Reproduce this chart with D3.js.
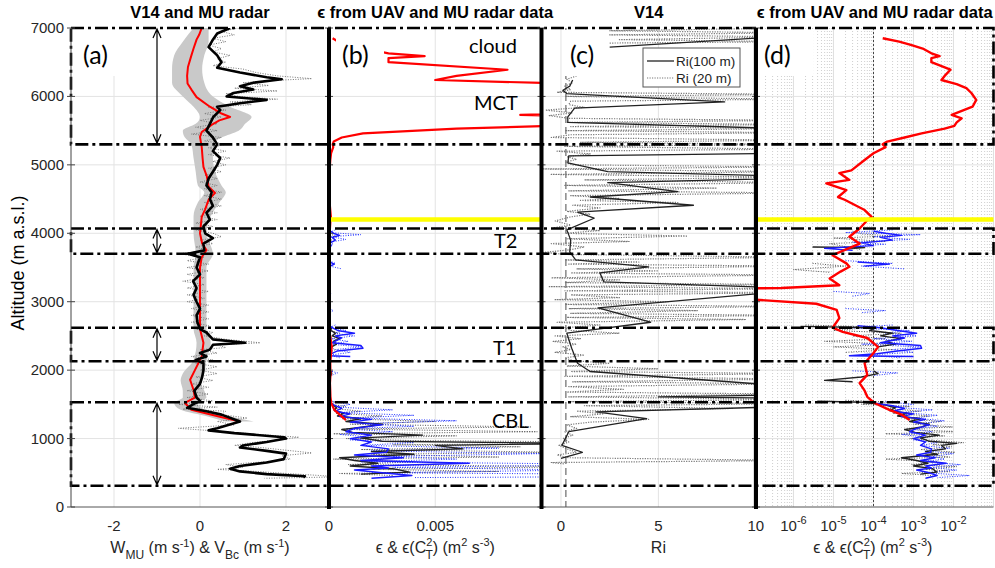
<!DOCTYPE html>
<html>
<head>
<meta charset="utf-8">
<script src="https://cdn.jsdelivr.net/npm/d3@7"></script>
<style>
  body { margin: 0; background: #fff; }
  svg { display: block; }
  text { font-family: "Liberation Sans", Arial, sans-serif; }
  .ann { font-family: Lato, "Open Sans", sans-serif; }
</style>
</head>
<body>
<svg id="chart" width="995" height="568"></svg>
<script>
// ---- data (altitude in m, value) ----
const layers = [[5300, 7000], [3700, 4070], [2130, 2620], [310, 1530]];
const yellowAlt = 4200;

// (a) MU radar mean vertical wind and its spread
const wMU = [[7000,0.04],[6900,-0.02],[6830,-0.08],[6700,-0.15],[6600,-0.2],[6430,-0.28],[6300,-0.3],[6190,-0.29],[6100,-0.2],[5990,-0.08],[5850,0.23],[5750,0.5],[5700,0.7],[5650,0.45],[5600,0.31],[5480,0.04],[5410,0],[5260,0.04],[5100,0.06],[4970,0.08],[4830,0.16],[4680,0.2],[4590,0.35],[4490,0.2],[4350,0.12],[4240,0.04],[4000,0],[3850,0.05],[3755,0.15],[3650,0.04],[3500,0],[3000,0],[2600,0],[2400,0.08],[2200,0.04],[2150,0],[1960,-0.15],[1860,-0.23],[1710,-0.15],[1600,-0.12],[1520,-0.35],[1420,-0.2],[1320,0.46],[1250,0.93]];
const wMUband = [[7000,-0.15,0.2],[6800,-0.4,0.2],[6600,-0.6,0.1],[6400,-0.65,0.05],[6200,-0.65,0.1],[6000,-0.4,0.3],[5850,-0.15,0.7],[5700,0,1.2],[5600,-0.1,1.05],[5500,-0.4,0.9],[5400,-0.35,0.5],[5300,-0.2,0.3],[5100,-0.15,0.3],[4900,-0.1,0.35],[4700,-0.05,0.5],[4600,0.1,0.6],[4450,-0.05,0.45],[4250,-0.15,0.25],[4000,-0.15,0.15],[3700,-0.1,0.3],[3500,-0.15,0.15],[3000,-0.15,0.15],[2600,-0.15,0.15],[2400,-0.08,0.25],[2150,-0.15,0.15],[1950,-0.4,0.1],[1850,-0.45,0],[1700,-0.4,0.1],[1600,-0.4,0.15],[1520,-0.6,-0.05],[1420,-0.45,0.1],[1320,0.2,0.75],[1250,0.6,1.25]];
// (a) V14 balloon-corrected vertical speed, 100 m and 20 m
const vBc100 = [[7000,0.7],[6920,0.4],[6830,0.3],[6720,0.2],[6600,0.4],[6500,0.5],[6420,0.4],[6350,0.93],[6280,1.55],[6250,1.9],[6200,1.24],[6150,0.93],[6100,1.24],[6050,0.78],[6000,0.62],[5950,1.55],[5900,0.93],[5850,0.4],[5800,0.47],[5700,0.31],[5600,0.23],[5500,0.15],[5400,0.3],[5300,0.4],[5200,0.3],[5100,0.47],[5000,0.4],[4900,0.3],[4800,0.2],[4700,0.15],[4600,0.27],[4500,0.23],[4400,0.3],[4300,0.15],[4200,0.23],[4100,0.08],[4000,0.12],[3930,0.3],[3850,0.08],[3750,0.1],[3700,-0.28],[3650,0],[3500,-0.08],[3400,0],[3300,-0.16],[3200,-0.08],[3100,-0.15],[3000,-0.08],[2900,0],[2800,-0.08],[2700,-0.06],[2600,0],[2550,0.15],[2450,0.3],[2400,1.05],[2370,0.3],[2300,0.23],[2250,0],[2200,0.15],[2150,-0.1],[2100,0.08],[2000,0.08],[1900,0.05],[1800,0],[1700,-0.13],[1600,-0.08],[1550,0],[1520,-0.1],[1450,-0.3],[1400,0.15],[1350,0.5],[1250,0.93],[1150,0.4],[1120,0.2],[1080,0.8],[1020,1.95],[1000,2.0],[950,1.55],[900,1.0],[870,0.93],[820,1.55],[780,2.0],[700,1.95],[650,1.55],[600,0.93],[560,0.7],[520,0.93],[480,1.55],[450,2.44],[430,2.4]];
const vBc20 = [[7000,0.9],[6950,0.5],[6900,0.8],[6850,0.3],[6800,0.6],[6750,0.2],[6700,0.5],[6650,0.3],[6600,0.7],[6550,0.4],[6500,0.6],[6450,0.3],[6400,1.0],[6350,1.3],[6300,1.8],[6260,2.6],[6230,1.6],[6200,1.0],[6160,1.6],[6120,0.8],[6080,1.8],[6040,0.6],[6000,0.9],[5960,1.8],[5920,0.7],[5880,1.2],[5840,0.2],[5800,0.6],[5750,0.1],[5700,0.5],[5650,0],[5600,0.4],[5550,-0.1],[5500,0.4],[5450,-0.2],[5400,0.5],[5350,0.1],[5300,0.6],[5250,0.2],[5200,0.6],[5150,0.2],[5100,0.7],[5050,0.3],[5000,0.6],[4950,0.2],[4900,0.5],[4850,0.1],[4800,0.4],[4750,0],[4700,0.4],[4650,0.1],[4600,0.5],[4550,0.1],[4500,0.5],[4450,0.1],[4400,0.5],[4350,0],[4300,0.4],[4250,0],[4200,0.4],[4150,-0.1],[4100,0.3],[4050,-0.1],[4000,0.3],[3950,0.5],[3900,0],[3850,0.3],[3800,-0.1],[3750,0.2],[3700,-0.5],[3650,0.1],[3600,-0.3],[3550,0.2],[3500,-0.3],[3450,0.2],[3400,-0.3],[3350,0.1],[3300,-0.4],[3250,0.1],[3200,-0.3],[3150,0.2],[3100,-0.3],[3050,0.1],[3000,-0.3],[2950,0.2],[2900,-0.2],[2850,0.2],[2800,-0.2],[2750,0.2],[2700,-0.2],[2650,0.2],[2600,-0.1],[2550,0.3],[2500,0.1],[2450,0.6],[2400,1.4],[2370,0.4],[2330,0.6],[2300,0],[2250,0.4],[2200,-0.2],[2150,0.3],[2100,-0.1],[2050,0.4],[2000,0],[1950,0.4],[1900,-0.1],[1850,0.3],[1800,-0.2],[1750,0.2],[1700,-0.3],[1650,0.2],[1600,-0.3],[1550,0.3],[1500,-0.5],[1460,0.4],[1430,-0.4],[1400,0.6],[1350,0.5],[1300,1.1],[1250,0.4],[1200,0.8],[1150,-0.5],[1100,0.6],[1050,1.6],[1020,2.3],[980,1.8],[940,1.2],[900,0.8],[870,1.4],[830,2.0],[790,2.6],[750,1.9],[700,2.1],[660,1.5],[620,0.6],[580,1.0],[550,0.4],[520,1.3],[490,2.0],[460,2.8],[440,3.2],[420,1.5]];

// (b)/(d) dissipation rate: MU radar (red), UAV eps (black), UAV eps(CT2) (blue)
const epsMU = [[6850,1.7e-4],[6800,4.4e-4],[6750,9e-4],[6700,1.7e-3],[6630,2.8e-3],[6590,4.5e-3],[6560,2.8e-3],[6500,2.8e-3],[6390,8.4e-3],[6300,6e-3],[6240,5e-3],[6180,1.2e-2],[6120,2.1e-2],[6050,2.8e-2],[5950,3.7e-2],[5850,3e-2],[5780,1.5e-2],[5730,9e-3],[5680,1.6e-2],[5620,1.2e-2],[5570,1.05e-2],[5530,6e-3],[5460,1.6e-3],[5400,6e-4],[5340,2.2e-4],[5300,1.7e-4],[5260,2e-4],[5170,1e-4],[5070,6e-5],[4920,2.8e-5],[4880,1.4e-5],[4780,2.5e-5],[4730,6.6e-6],[4630,2.1e-5],[4530,1.3e-5],[4490,1.9e-5],[4340,6e-5],[4240,9e-5],[4190,7e-5],[4070,4.5e-5],[3950,2.5e-5],[3850,4.5e-5],[3680,9.5e-6],[3560,2.1e-5],[3510,2.5e-5],[3440,1.5e-5],[3340,8e-6],[3240,1.4e-5],[3200,5e-7],[3190,1e-8],[3070,1e-8],[2970,3.7e-6],[2880,1.2e-5],[2760,1.4e-5],[2620,9.5e-6],[2560,1.7e-5],[2470,7e-5],[2340,1.3e-4],[2250,1e-4],[2100,6e-5],[1930,7e-5],[1810,4.5e-5],[1700,6e-5],[1610,7e-5],[1520,1.05e-4],[1420,2.5e-4],[1350,5e-4],[1270,8e-4]];
const epsUAV = [[3800,3e-6],[3790,6e-5],[3770,2e-5],null,[2640,1.5e-6],[2620,1.2e-4],[2580,8e-5],[2540,3e-4],[2500,1.5e-4],[2460,5e-4],[2420,2e-4],[2380,3.5e-4],[2340,1.3e-4],null,[1990,1e-4],[1950,1.3e-4],[1900,5e-5],[1850,6e-6],[1830,3e-5],null,[1545,4e-6],[1530,6e-5],[1490,2e-4],[1450,3.5e-4],[1410,2.5e-4],[1370,7e-4],[1330,4e-4],[1290,1.5e-3],[1250,8e-4],[1210,2.5e-3],[1170,1.6e-3],[1130,6e-4],[1090,1.1e-3],[1050,4.4e-3],[1010,1.5e-3],[960,2.5e-3],[930,1.2e-2],[900,5e-3],[850,6.3e-3],[810,2e-3],[770,4e-3],[720,5e-4],[680,1.2e-3],[640,2.3e-3],[600,1e-3],[560,3e-3],[510,3.8e-3],[480,1.5e-3]];
const epsUAV20 = [[4030,3e-5],[3990,5e-5],[3960,3e-4],[3930,1e-5],[3880,2e-4],[3850,8e-6],[3760,5e-5],null,[3560,3e-6],[3520,2e-5],[3470,1e-6],[3430,8e-6],null,[2660,2e-6],[2630,1.2e-4],[2580,1e-5],[2540,5e-4],[2500,3e-5],[2460,2e-4],[2420,6e-6],[2380,4e-4],[2340,1e-5],[2300,3e-4],[2260,2e-5],null,[1560,2e-5],[1530,3e-4],[1500,5e-5],[1470,8e-4],[1440,2e-4],[1400,1.5e-3],[1370,3e-4],[1330,2.5e-3],[1290,6e-4],[1250,5e-3],[1210,1e-3],[1170,9.5e-3],[1140,6e-4],[1100,9.8e-3],[1070,2e-4],[1040,6e-3],[1000,8e-4],[970,4e-3],[940,1.8e-2],[910,3e-3],[880,9e-3],[840,1.5e-3],[800,1.1e-2],[770,2e-3],[730,8e-3],[700,2e-4],[660,4e-3],[620,9e-4],[590,1.2e-2],[550,2e-3],[520,8e-3],[490,5e-4],[460,3e-3]];
const epsCT2 = [[4030,1e-4],[4000,2e-4],[3970,5e-4],[3940,1.5e-4],[3900,3e-4],[3860,5e-5],[3820,1e-4],[3780,6e-6],[3750,3e-5],null,[3580,4e-5],[3550,2.5e-4],[3520,6e-5],null,[2650,4e-5],[2620,1.5e-4],[2580,4e-4],[2540,1.2e-3],[2500,3e-4],[2470,6e-4],[2400,1.5e-4],[2360,1.5e-3],[2320,1.6e-3],[2280,4e-4],[2240,1.2e-4],[2210,2.5e-5],[2200,1e-3],null,[1520,1e-4],[1480,3e-4],[1440,6e-4],[1400,3e-4],[1360,1e-3],[1320,5e-4],[1280,2e-3],[1240,1e-3],[1200,2.5e-3],[1150,1.2e-3],[1100,8e-4],[1050,2e-3],[1000,1e-3],[950,2e-3],[900,1.5e-3],[850,2.8e-3],[800,2.7e-3],[760,1.2e-3],[720,3.5e-3],[680,1.5e-3],[640,6.6e-3],[600,2e-3],[570,2.8e-3],[540,1.2e-3],[500,2.5e-3],[460,3.9e-3],[420,2e-3]];
const epsCT2_20 = [[4050,3e-4],[4010,2e-5],[3980,1.5e-3],[3950,1e-4],[3910,8e-4],[3870,3e-5],[3840,2e-4],[3790,1e-5],null,[3600,2e-5],[3560,3e-4],[3520,5e-5],[3480,6e-4],null,[3150,1e-5],[3120,8e-5],[3080,3e-5],null,[2900,2e-5],[2870,2e-4],[2840,5e-5],null,[2660,3e-4],[2620,2e-5],[2580,8e-4],[2540,2e-4],[2500,1.2e-3],[2460,1e-4],[2420,9e-4],[2380,5e-5],[2340,1.5e-3],[2300,3e-4],[2260,1e-3],[2220,6e-5],[2180,5e-4],null,[1990,3e-5],[1960,4e-4],[1920,1e-4],null,[1540,2e-4],[1500,1e-3],[1460,3e-4],[1420,3e-3],[1380,5e-4],[1340,4e-3],[1300,1e-3],[1260,6e-3],[1220,1.5e-3],[1180,4e-3],[1140,8e-4],[1100,3e-3],[1060,5e-4],[1020,2e-3],[980,1e-3],[940,4e-3],[900,1.5e-3],[860,8e-3],[820,2e-3],[780,1e-2],[740,3e-3],[700,6e-3],[660,1.5e-3],[620,1.5e-2],[580,3e-3],[540,1.2e-2],[500,2e-3],[460,2.5e-2],[430,4e-3]];

// (c) Richardson number
const ri100 = [[7000,12],[6870,11],[6720,2.5],null,[6240,0.6],[6150,0.45],[6090,0.1],[6040,0.3],[5920,8.4],[5830,0.7],[5700,0.35],[5620,0.35],[5510,14],[5350,20],[5180,14],[5130,0.4],[5030,0.35],[4900,2.4],[4820,14],[4740,2.4],[4610,6],[4530,1.5],[4410,6.8],[4310,0.85],[4220,1.7],[4050,0.3],[3900,0.5],[3730,0.45],[3610,0.75],[3510,4.5],[3420,2],[3290,2.2],[3190,13],[2910,1.9],[2700,4.6],[2540,0.3],[2320,0.55],[2100,0.85],[1980,1.5],[1780,11],[1640,12],[1610,5],[1590,12],[1470,12],[1390,1.8],[1290,4.4],[1100,0.4],[900,0.05],[800,1.1],[710,0]];
const ri20 = [[7000,12],[6960,2.5],[6930,12],[6900,2.5],[6870,12],[6830,3],[6800,12],[6780,2.5],null,[6300,0.8],[6250,0.3],[6200,0.6],[6150,0.2],[6100,0.5],[6060,-0.2],[6030,12],[6000,0.2],[5960,12],[5930,0.5],[5880,0.4],[5840,1.2],[5800,-0.8],[5760,0.6],[5720,-0.6],[5680,0.4],[5650,12],[5620,0.3],[5590,12],[5560,0.5],[5530,12],[5500,0.2],[5470,12],[5440,0.5],[5400,-0.5],[5360,12],[5330,1.0],[5300,12],[5270,0.2],[5230,12],[5200,-0.2],[5160,1.5],[5120,0.3],[5080,0.8],[5040,0.2],[5000,0.6],[4970,12],[4940,-0.9],[4900,12],[4860,-0.5],[4820,12],[4780,1.2],[4740,12],[4700,0.2],[4660,8],[4620,0.4],[4590,12],[4550,0.5],[4510,3],[4480,1],[4450,6],[4410,0.6],[4370,2],[4320,0.3],[4280,1.5],[4240,0.5],[4180,-0.3],[4120,0.5],[4080,-0.4],[4040,2],[4000,0.2],[3960,6.5],[3920,0.3],[3880,3.5],[3850,-0.5],[3800,1.2],[3760,0.5],[3720,-0.9],[3690,0.3],[3650,12],[3610,0.2],[3580,4],[3550,0.4],[3520,12],[3480,0.8],[3450,5],[3420,0.5],[3390,12],[3350,-0.5],[3320,3],[3280,0.2],[3250,12],[3220,-0.6],[3190,12],[3160,0.2],[3130,12],[3100,0.5],[3060,3],[3030,-0.3],[3000,5.5],[2960,0.2],[2930,12],[2900,0.4],[2870,7],[2830,0.5],[2800,12],[2770,0.3],[2740,9.5],[2700,-0.2],[2660,2],[2620,0.2],[2580,0.5],[2540,3],[2500,-0.3],[2460,1],[2420,-0.4],[2380,0.8],[2340,0.1],[2300,0.5],[2260,-0.3],[2220,1.2],[2180,0.2],[2140,0.6],[2100,2.5],[2060,0.3],[2020,5],[1980,0.5],[1950,12],[1910,0.2],[1870,12],[1830,0.6],[1800,12],[1760,0.4],[1720,3.2],[1680,0.3],[1650,12],[1610,0.4],[1570,12],[1540,0.5],[1510,12],[1480,1.2],[1440,8.8],[1400,0.8],[1360,2.2],[1320,0.5],[1280,4.5],[1240,1.5],[1200,0.3],[1150,0.8],[1100,0.2],[1050,0.6],[1000,0.1],[950,0.4],[900,-0.1],[850,0.3],[800,0.8],[760,-0.2],[720,0.4],[680,12],[650,-0.5],[630,0.2]];
const riCrit = 0.25;
const epsRef = 1e-4;

const altTicks = [0, 1000, 2000, 3000, 4000, 5000, 6000, 7000];
const aTicks = [-2, 0, 2];
const bTicks = [0, 0.005];
const cTicks = [0, 5, 10];
const dTicks = [1e-6, 1e-5, 1e-4, 1e-3, 1e-2];
const titles = ["V14 and MU radar", "\u03f5 from UAV and MU radar data", "V14", "\u03f5 from UAV and MU radar data"];

// ---- scales ----
const svg = d3.select("#chart");
const y = d3.scaleLinear().domain([0, 7000]).range([507, 28]);
const xA = d3.scaleLinear().domain([-3, 3]).range([71, 329]);
const xB = d3.scaleLinear().domain([0, 0.01]).range([329, 541.5]);
const xC = d3.scaleLinear().domain([-1, 10]).range([541.5, 755.8]);
const xD = d3.scaleLog().domain([1e-7, 1e-1]).range([753.5, 993.5]);
const panels = [
  {id: "a", x: xA, x0: 71, x1: 329},
  {id: "b", x: xB, x0: 329, x1: 541.5},
  {id: "c", x: xC, x0: 541.5, x1: 756},
  {id: "d", x: xD, x0: 756, x1: 993.5}
];

const defs = svg.append("defs");
panels.forEach(p => {
  defs.append("clipPath").attr("id", "clip-" + p.id)
    .append("rect").attr("x", p.x0).attr("y", 28).attr("width", p.x1 - p.x0).attr("height", 507 - 28);
});

// ---- grids ----
const grid = svg.append("g");
panels.forEach(p => {
  grid.selectAll(null).data(altTicks.slice(1, -1)).join("line")
    .attr("x1", p.x0).attr("x2", p.x1).attr("y1", d => y(d)).attr("y2", d => y(d))
    .attr("stroke", "#e3e3e3");
});
// panel d minor grid
const minor = [];
for (let e = -7; e < -1; e++) for (let m = 2; m <= 9; m++) minor.push(m * Math.pow(10, e));
grid.selectAll(null).data(minor).join("line")
  .attr("x1", d => xD(d)).attr("x2", d => xD(d)).attr("y1", 28).attr("y2", 507)
  .attr("stroke", "#cfcfcf").attr("stroke-dasharray", "1,2");
grid.selectAll(null).data(dTicks.concat([1e-7, 1e-1])).join("line")
  .attr("x1", d => xD(d)).attr("x2", d => xD(d)).attr("y1", 28).attr("y2", 507)
  .attr("stroke", "#e0e0e0");
grid.selectAll(null).data(aTicks).join("line")
  .attr("x1", d => xA(d)).attr("x2", d => xA(d)).attr("y1", 28).attr("y2", 507).attr("stroke", "#e3e3e3");
grid.append("line").attr("x1", xB(0.005)).attr("x2", xB(0.005)).attr("y1", 28).attr("y2", 507).attr("stroke", "#e3e3e3");
grid.selectAll(null).data([0, 5]).join("line")
  .attr("x1", d => xC(d)).attr("x2", d => xC(d)).attr("y1", 28).attr("y2", 507).attr("stroke", "#e3e3e3");

// ---- series ----
function line(x) {
  return d3.line().defined(d => d != null).x(d => x(d[1])).y(d => y(d[0]));
}
function draw(pid, data, x, color, width, dash) {
  svg.append("path").datum(data)
    .attr("clip-path", "url(#clip-" + pid + ")")
    .attr("d", line(x))
    .attr("fill", "none").attr("stroke", color).attr("stroke-width", width)
    .attr("stroke-dasharray", dash || null).attr("stroke-linejoin", "round");
}

// (a)
svg.append("path").datum(wMUband)
  .attr("clip-path", "url(#clip-a)")
  .attr("d", d3.area().x0(d => xA(d[1])).x1(d => xA(d[2])).y(d => y(d[0])).curve(d3.curveMonotoneY))
  .attr("fill", "#c9c9c9");
draw("a", vBc20, xA, "#777", 1, "1,1.5");
draw("a", wMU, xA, "#f00", 2);
draw("a", vBc100, xA, "#000", 2.6);

// (b)
draw("b", epsUAV20, xB, "#555", 1, "1,1.5");
draw("b", epsCT2_20, xB, "#2233ff", 1, "1,1.5");
draw("b", epsUAV, xB, "#222", 1.4);
draw("b", epsCT2, xB, "#1a1aff", 1.4);
draw("b", epsMU, xB, "#f00", 2.2);

// (c)
svg.append("line").attr("x1", xC(riCrit)).attr("x2", xC(riCrit)).attr("y1", 28).attr("y2", 507)
  .attr("stroke", "#888").attr("stroke-width", 1.5).attr("stroke-dasharray", "7,4");
draw("c", ri20, xC, "#777", 1.2, "1.2,1.3");
draw("c", ri100, xC, "#222", 1.3);

// (d)
svg.append("line").attr("x1", xD(epsRef)).attr("x2", xD(epsRef)).attr("y1", 28).attr("y2", 507)
  .attr("stroke", "#444").attr("stroke-width", 1).attr("stroke-dasharray", "2,2");
draw("d", epsUAV20, xD, "#555", 1, "1,1.5");
draw("d", epsCT2_20, xD, "#2233ff", 1, "1,1.5");
draw("d", epsUAV, xD, "#222", 1.4);
draw("d", epsCT2, xD, "#1a1aff", 1.4);
draw("d", epsMU, xD, "#f00", 2.4);

// ---- layer boxes, yellow line, arrows ----
[xB, xD].forEach(x => {
  const r = x.range();
  svg.append("line").attr("x1", r[0] + 2).attr("x2", r[1]).attr("y1", y(yellowAlt)).attr("y2", y(yellowAlt))
    .attr("stroke", "#ffff00").attr("stroke-width", 4.5);
});
layers.forEach(l => {
  svg.append("rect").attr("x", 71).attr("y", y(l[1])).attr("width", 993.5 - 71).attr("height", y(l[0]) - y(l[1]))
    .attr("fill", "none").attr("stroke", "#000").attr("stroke-width", 2.6).attr("stroke-dasharray", "13,4,3,4");
  const ax = xA(-1), ya = y(l[1]) + 1, yb = y(l[0]) - 1;
  svg.append("path")
    .attr("d", `M${ax},${ya}V${yb}M${ax - 4},${ya + 9}L${ax},${ya}L${ax + 4},${ya + 9}M${ax - 4},${yb - 9}L${ax},${yb}L${ax + 4},${yb - 9}`)
    .attr("fill", "none").attr("stroke", "#000").attr("stroke-width", 1.2);
});

// ---- axes ----
const ax = svg.append("g").attr("fill", "#262626").style("font-size", "15px");
svg.append("line").attr("x1", 71).attr("x2", 71).attr("y1", 28).attr("y2", 507).attr("stroke", "#444");
svg.append("line").attr("x1", 71).attr("x2", 993.5).attr("y1", 507).attr("y2", 507).attr("stroke", "#555");
ax.selectAll(null).data(altTicks).join("text")
  .attr("x", 64).attr("y", d => y(d) + 5).attr("text-anchor", "end").text(d => d);
altTicks.forEach(t => {
  [71, 329, 541.5, 756].forEach(xx => {
    svg.append("line").attr("x1", xx).attr("x2", xx + 4).attr("y1", y(t)).attr("y2", y(t)).attr("stroke", "#444");
    svg.append("line").attr("x1", xx).attr("x2", xx - 4).attr("y1", y(t)).attr("y2", y(t)).attr("stroke", "#444");
  });
});
const tickY = 531;
ax.selectAll(null).data(aTicks).join("text").attr("x", d => xA(d)).attr("y", tickY).attr("text-anchor", "middle").text(d => d);
ax.selectAll(null).data(bTicks).join("text").attr("x", d => xB(d)).attr("y", tickY).attr("text-anchor", "middle").text(d => d);
ax.selectAll(null).data(cTicks).join("text").attr("x", d => xC(d)).attr("y", tickY).attr("text-anchor", "middle").text(d => d);
dTicks.forEach(d => {
  const t = ax.append("text").attr("x", xD(d)).attr("y", tickY).attr("text-anchor", "middle");
  t.append("tspan").text("10");
  t.append("tspan").attr("dy", -7).style("font-size", "11px").text(Math.round(Math.log10(d)));
});

// separators between panels
[329, 541.5, 756].forEach(xx => {
  svg.append("line").attr("x1", xx).attr("x2", xx).attr("y1", 28).attr("y2", 509)
    .attr("stroke", "#000").attr("stroke-width", 4);
});

// ---- titles and labels ----
const centers = panels.map(p => (p.x0 + p.x1) / 2);
titles.forEach((t, i) => {
  svg.append("text").attr("x", centers[i]).attr("y", 18).attr("text-anchor", "middle")
    .style("font-size", "16.5px").style("font-weight", "bold").attr("fill", "#000").text(t);
});
svg.append("text").attr("transform", "translate(24,263) rotate(-90)").attr("text-anchor", "middle")
  .style("font-size", "18px").attr("fill", "#000").text("Altitude (m a.s.l.)");

function xlabel(cx, parts) {
  const t = svg.append("text").attr("x", cx).attr("y", 553).attr("text-anchor", "middle")
    .style("font-size", "16px").attr("fill", "#262626");
  parts.forEach(p => {
    const s = t.append("tspan").text(p[0]);
    if (p[1]) s.attr("dy", p[1]);
    if (p[2]) s.style("font-size", p[2]);
    if (p[3]) s.attr("dx", p[3]);
  });
}
xlabel(centers[0], [["W"], ["MU", 6, "12px"], [" (m s", -6], ["-1", -6, "11px"], [") & V", 6], ["Bc", 6, "12px"], [" (m s", -6], ["-1", -6, "11px"], [")", 6]]);
xlabel(centers[1], [["\u03f5 & \u03f5(C"], ["2", -7, "11px"], ["T", 13, "12px", -7], [") (m", -6], ["2", -7, "11px"], [" s", 7], ["-3", -7, "11px"], [")", 7]]);
xlabel(xC(5), [["Ri"]]);
xlabel(centers[3] - 2, [["\u03f5 & \u03f5(C"], ["2", -7, "11px"], ["T", 13, "12px", -7], [") (m", -6], ["2", -7, "11px"], [" s", 7], ["-3", -7, "11px"], [")", 7]]);

// panel letters with white background
[["(a)", 77, 30, 42], ["(b)", 336, 30, 48], ["(c)", 564, 30, 40], ["(d)", 758, 30, 55]].forEach(l => {
  svg.append("rect").attr("x", l[1]).attr("y", l[2]).attr("width", l[3]).attr("height", 46).attr("fill", "#fff");
  svg.append("text").attr("class", "ann").attr("x", l[1] + 6).attr("y", 64)
    .style("font-size", "25px").attr("fill", "#000").text(l[0]);
});
[["cloud", 469, 53], ["MCT", 474, 110], ["T2", 494, 248], ["T1", 493, 355], ["CBL", 492, 428]].forEach(l => {
  svg.append("text").attr("class", "ann").attr("x", l[1]).attr("y", l[2])
    .style("font-size", "20px").attr("fill", "#000").text(l[0]);
});

// legend in (c)
const lg = svg.append("g");
lg.append("rect").attr("x", 643).attr("y", 48).attr("width", 97).attr("height", 39)
  .attr("fill", "#fff").attr("stroke", "#555").attr("stroke-width", 1);
lg.append("line").attr("x1", 647).attr("x2", 674).attr("y1", 61).attr("y2", 61).attr("stroke", "#222").attr("stroke-width", 1.3);
lg.append("line").attr("x1", 647).attr("x2", 674).attr("y1", 78).attr("y2", 78).attr("stroke", "#777").attr("stroke-width", 1.2).attr("stroke-dasharray", "1.2,1.3");
lg.append("text").attr("x", 676).attr("y", 66).style("font-size", "13.5px").attr("fill", "#222").text("Ri(100 m)");
lg.append("text").attr("x", 676).attr("y", 83).style("font-size", "13.5px").attr("fill", "#222").text("Ri (20 m)");
</script>
</body>
</html>
